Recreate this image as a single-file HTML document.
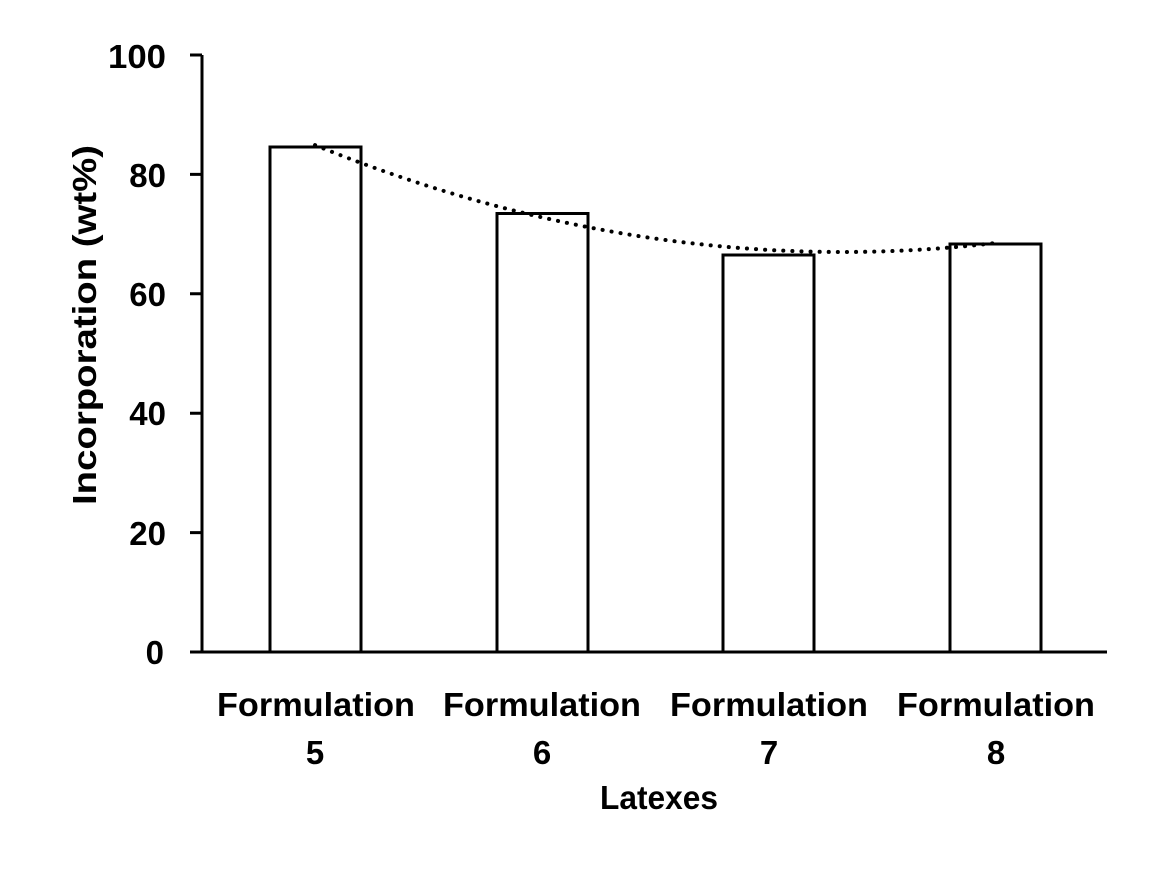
<!DOCTYPE html>
<html><head><style>body{margin:0;background:#fff}</style></head><body>
<svg width="1170" height="878" xmlns="http://www.w3.org/2000/svg" font-family="Liberation Sans, sans-serif" font-weight="bold">
<rect width="1170" height="878" fill="#fff"/>
<g stroke="#000" stroke-width="3" fill="#fff">
<rect x="270" y="147" width="91" height="505"/>
<rect x="497" y="213.5" width="91" height="438.5"/>
<rect x="723" y="255" width="91" height="397"/>
<rect x="950" y="244" width="91" height="408"/>
</g>
<g stroke="#000" stroke-width="3" fill="none">
<path d="M202 55V652H1107"/>
<path d="M190 55H202M190 174.4H202M190 293.8H202M190 413.2H202M190 532.6H202M190 652H202"/>
</g>
<path d="M315 145.1Q655.5 283.2 996 242.9" stroke="#000" stroke-width="4" fill="none" stroke-dasharray="0.1 9" stroke-linecap="round"/>
<g font-size="33" text-anchor="end">
<text x="166" y="68" textLength="58" lengthAdjust="spacingAndGlyphs">100</text><text x="166" y="187">80</text><text x="166" y="306">60</text>
<text x="166" y="425">40</text><text x="166" y="545">20</text><text x="164" y="664">0</text>
</g>
<g font-size="33" text-anchor="middle">
<text x="316" y="716" textLength="198" lengthAdjust="spacingAndGlyphs">Formulation</text><text x="315" y="764">5</text>
<text x="542" y="716" textLength="198" lengthAdjust="spacingAndGlyphs">Formulation</text><text x="542" y="764">6</text>
<text x="769" y="716" textLength="198" lengthAdjust="spacingAndGlyphs">Formulation</text><text x="769" y="764">7</text>
<text x="996" y="716" textLength="198" lengthAdjust="spacingAndGlyphs">Formulation</text><text x="996" y="764">8</text>
<text x="659" y="809" textLength="118" lengthAdjust="spacingAndGlyphs">Latexes</text>
<text transform="translate(96 325) rotate(-90)" textLength="360" lengthAdjust="spacingAndGlyphs">Incorporation (wt%)</text>
</g>
</svg>
</body></html>
